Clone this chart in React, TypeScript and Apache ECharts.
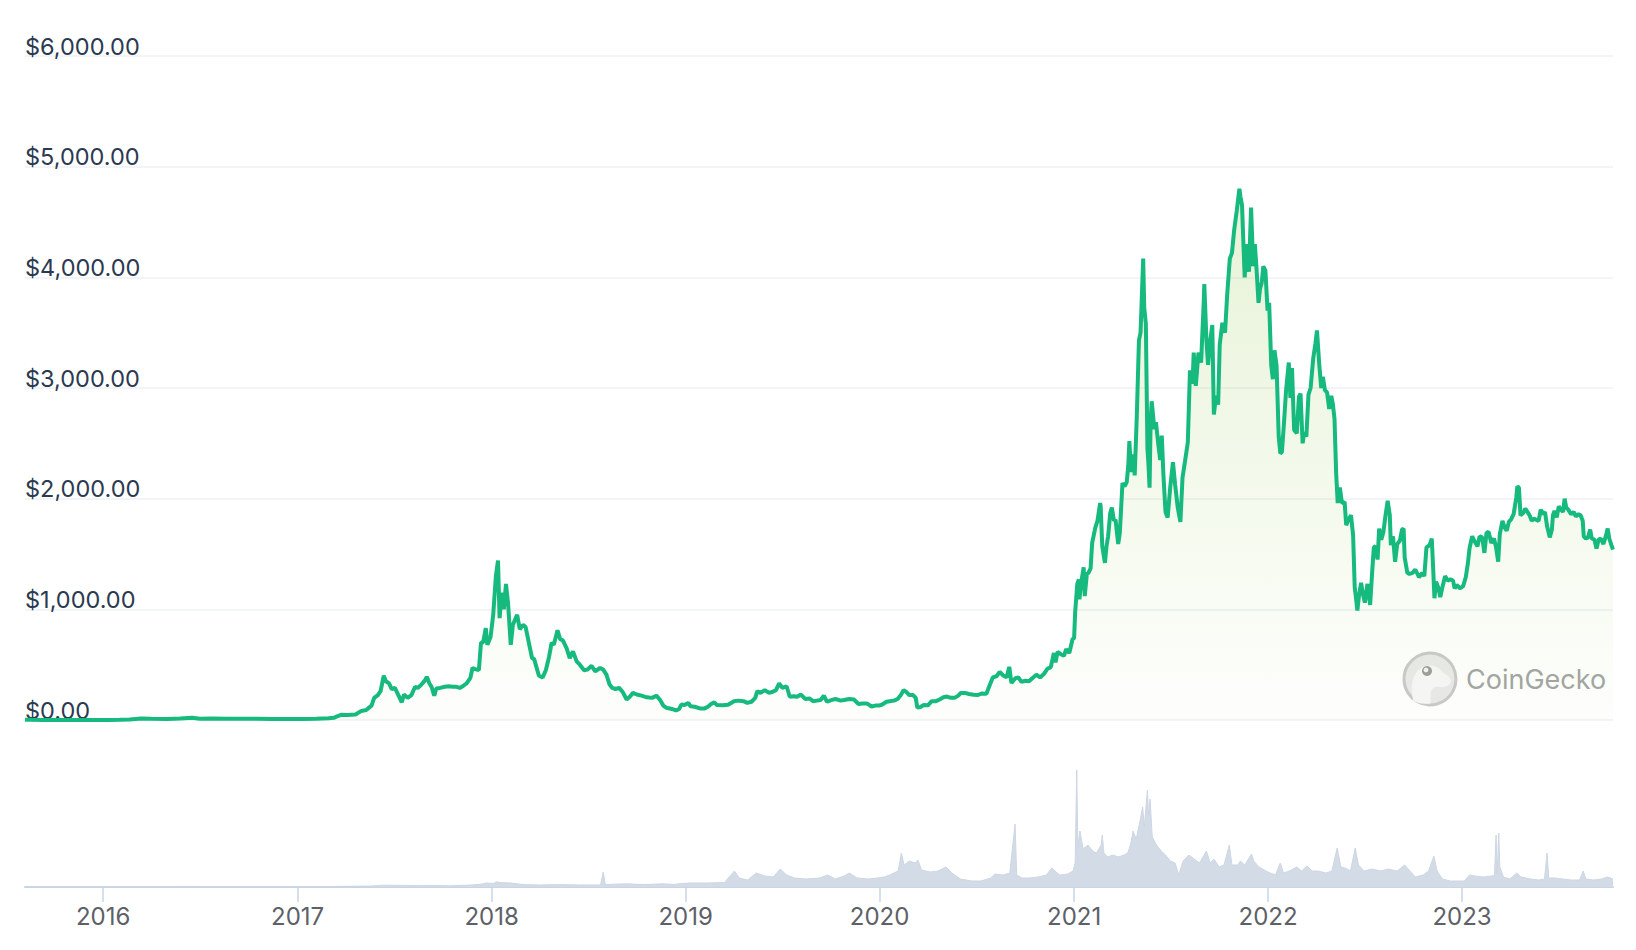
import React, { useEffect, useRef } from "react";
import * as echarts from "echarts";

// ---- Price (USD) ----
const price2015: [string, number][] = [
  ["2015-08-07", 2.8], ["2015-08-20", 1.4], ["2015-09-10", 1.0], ["2015-10-01", 0.7],
  ["2015-10-21", 0.5], ["2015-11-10", 1.0], ["2015-12-01", 0.85], ["2015-12-20", 0.9],
];
const price2016: [string, number][] = [
  ["2016-01-10", 1.0], ["2016-02-01", 2.3], ["2016-02-20", 4.5], ["2016-03-13", 14],
  ["2016-04-01", 11.5], ["2016-05-01", 9], ["2016-05-25", 12.5], ["2016-06-17", 21],
  ["2016-07-01", 12], ["2016-07-25", 13], ["2016-08-20", 11], ["2016-09-15", 12],
  ["2016-10-15", 12], ["2016-11-15", 10], ["2016-12-15", 8],
];
const price2017: [string, number][] = [
  ["2017-01-10", 10], ["2017-02-05", 11], ["2017-02-28", 16], ["2017-03-10", 20],
  ["2017-03-15", 30], ["2017-03-25", 48], ["2017-04-05", 45], ["2017-04-20", 50],
  ["2017-04-30", 80], ["2017-05-10", 90], ["2017-05-20", 130], ["2017-05-25", 200],
  ["2017-06-01", 225], ["2017-06-06", 260], ["2017-06-12", 400], ["2017-06-16", 350],
  ["2017-06-22", 330], ["2017-06-27", 280], ["2017-07-03", 290], ["2017-07-10", 220],
  ["2017-07-16", 160], ["2017-07-20", 230], ["2017-07-27", 200], ["2017-08-03", 225],
  ["2017-08-10", 300], ["2017-08-15", 290], ["2017-08-22", 320], ["2017-08-29", 360],
  ["2017-09-01", 390], ["2017-09-06", 330], ["2017-09-10", 300], ["2017-09-15", 220],
  ["2017-09-19", 285], ["2017-09-26", 290], ["2017-10-05", 300], ["2017-10-12", 305],
  ["2017-10-20", 300], ["2017-10-27", 300], ["2017-11-02", 290], ["2017-11-09", 310],
  ["2017-11-15", 330], ["2017-11-22", 380], ["2017-11-26", 470], ["2017-12-01", 460],
  ["2017-12-08", 450], ["2017-12-12", 700], ["2017-12-16", 700], ["2017-12-21", 830],
  ["2017-12-24", 680], ["2017-12-30", 750],
];
const price2018: [string, number][] = [
  ["2018-01-04", 950], ["2018-01-09", 1300], ["2018-01-13", 1440], ["2018-01-16", 920],
  ["2018-01-20", 1150], ["2018-01-24", 1000], ["2018-01-28", 1230], ["2018-02-01", 1050],
  ["2018-02-06", 680], ["2018-02-10", 860], ["2018-02-18", 950], ["2018-02-23", 820],
  ["2018-03-01", 860], ["2018-03-06", 840], ["2018-03-12", 700], ["2018-03-18", 560],
  ["2018-03-22", 550], ["2018-03-31", 400], ["2018-04-07", 385], ["2018-04-13", 450],
  ["2018-04-19", 570], ["2018-04-24", 700], ["2018-04-28", 680], ["2018-05-05", 810],
  ["2018-05-10", 730], ["2018-05-15", 720], ["2018-05-22", 650], ["2018-05-28", 560],
  ["2018-06-03", 620], ["2018-06-10", 530], ["2018-06-16", 500], ["2018-06-24", 450],
  ["2018-06-30", 455], ["2018-07-08", 490], ["2018-07-15", 440], ["2018-07-24", 470],
  ["2018-07-30", 455], ["2018-08-05", 410], ["2018-08-11", 320], ["2018-08-16", 290],
  ["2018-08-22", 280], ["2018-08-29", 290], ["2018-09-05", 250], ["2018-09-12", 185],
  ["2018-09-18", 210], ["2018-09-24", 245], ["2018-10-01", 230], ["2018-10-10", 220],
  ["2018-10-20", 205], ["2018-10-30", 200], ["2018-11-07", 220], ["2018-11-14", 180],
  ["2018-11-20", 130], ["2018-11-26", 110], ["2018-12-06", 100], ["2018-12-14", 86],
  ["2018-12-20", 100], ["2018-12-24", 140], ["2018-12-30", 135],
];
const price2019: [string, number][] = [
  ["2019-01-06", 155], ["2019-01-10", 125], ["2019-01-18", 120], ["2019-01-28", 105],
  ["2019-02-06", 105], ["2019-02-12", 120], ["2019-02-18", 145], ["2019-02-24", 160],
  ["2019-03-01", 135], ["2019-03-12", 133], ["2019-03-22", 138], ["2019-04-02", 170],
  ["2019-04-10", 175], ["2019-04-20", 170], ["2019-04-27", 155], ["2019-05-05", 165],
  ["2019-05-12", 200], ["2019-05-16", 260], ["2019-05-22", 245], ["2019-05-30", 270],
  ["2019-06-07", 245], ["2019-06-14", 255], ["2019-06-20", 270], ["2019-06-26", 330],
  ["2019-07-02", 290], ["2019-07-10", 305], ["2019-07-16", 210], ["2019-07-24", 215],
  ["2019-07-30", 210], ["2019-08-06", 230], ["2019-08-14", 190], ["2019-08-22", 195],
  ["2019-08-29", 170], ["2019-09-05", 175], ["2019-09-12", 180], ["2019-09-18", 220],
  ["2019-09-24", 165], ["2019-10-02", 180], ["2019-10-10", 190], ["2019-10-20", 175],
  ["2019-10-26", 180], ["2019-11-05", 190], ["2019-11-14", 185], ["2019-11-22", 145],
  ["2019-11-30", 150], ["2019-12-08", 150], ["2019-12-17", 122], ["2019-12-24", 130],
  ["2019-12-31", 130],
];
const price2020: [string, number][] = [
  ["2020-01-06", 140], ["2020-01-14", 165], ["2020-01-20", 170], ["2020-01-28", 175],
  ["2020-02-04", 190], ["2020-02-10", 225], ["2020-02-15", 270], ["2020-02-20", 255],
  ["2020-02-26", 225], ["2020-03-04", 225], ["2020-03-09", 200], ["2020-03-12", 112],
  ["2020-03-18", 118], ["2020-03-24", 135], ["2020-04-01", 133], ["2020-04-08", 170],
  ["2020-04-16", 170], ["2020-04-23", 185], ["2020-04-30", 205], ["2020-05-07", 212],
  ["2020-05-14", 200], ["2020-05-21", 200], ["2020-05-28", 220], ["2020-06-02", 245],
  ["2020-06-10", 245], ["2020-06-17", 235], ["2020-06-26", 228], ["2020-07-03", 225],
  ["2020-07-12", 240], ["2020-07-20", 236], ["2020-07-25", 300], ["2020-08-01", 385],
  ["2020-08-08", 395], ["2020-08-14", 435], ["2020-08-20", 405], ["2020-08-27", 385],
  ["2020-09-01", 480], ["2020-09-05", 335], ["2020-09-12", 375], ["2020-09-18", 385],
  ["2020-09-24", 345], ["2020-10-01", 355], ["2020-10-08", 350], ["2020-10-15", 380],
  ["2020-10-22", 410], ["2020-10-29", 385], ["2020-11-05", 415], ["2020-11-12", 465],
  ["2020-11-18", 475], ["2020-11-24", 605], ["2020-11-27", 520], ["2020-12-01", 615],
  ["2020-12-07", 595], ["2020-12-13", 580], ["2020-12-17", 640], ["2020-12-23", 605],
  ["2020-12-29", 730],
];
const price2021: [string, number][] = [
  ["2021-01-01", 740], ["2021-01-03", 975], ["2021-01-07", 1230], ["2021-01-10", 1270],
  ["2021-01-11", 1090], ["2021-01-14", 1230], ["2021-01-19", 1380], ["2021-01-21", 1120],
  ["2021-01-25", 1320], ["2021-01-28", 1330], ["2021-02-01", 1370], ["2021-02-04", 1600],
  ["2021-02-10", 1740], ["2021-02-14", 1800], ["2021-02-19", 1960], ["2021-02-20", 1930],
  ["2021-02-23", 1570], ["2021-02-28", 1420], ["2021-03-03", 1570], ["2021-03-06", 1660],
  ["2021-03-10", 1870], ["2021-03-13", 1920], ["2021-03-17", 1800], ["2021-03-20", 1810],
  ["2021-03-25", 1590], ["2021-03-28", 1690], ["2021-04-02", 2140], ["2021-04-06", 2110],
  ["2021-04-10", 2150], ["2021-04-13", 2300], ["2021-04-15", 2520], ["2021-04-18", 2240],
  ["2021-04-22", 2400], ["2021-04-25", 2210], ["2021-04-29", 2750], ["2021-05-03", 3430],
  ["2021-05-06", 3500], ["2021-05-09", 3900], ["2021-05-11", 4170], ["2021-05-13", 3720],
  ["2021-05-16", 3580], ["2021-05-19", 2450], ["2021-05-21", 2300], ["2021-05-23", 2100],
  ["2021-05-25", 2700], ["2021-05-27", 2880], ["2021-06-01", 2630], ["2021-06-04", 2690],
  ["2021-06-08", 2510], ["2021-06-12", 2350], ["2021-06-15", 2570], ["2021-06-18", 2220],
  ["2021-06-22", 1880], ["2021-06-26", 1830], ["2021-07-01", 2110], ["2021-07-06", 2330],
  ["2021-07-10", 2130], ["2021-07-15", 1920], ["2021-07-20", 1790], ["2021-07-24", 2190],
  ["2021-07-30", 2380], ["2021-08-03", 2510], ["2021-08-07", 3160], ["2021-08-12", 3040],
  ["2021-08-14", 3320], ["2021-08-18", 3020], ["2021-08-23", 3320], ["2021-08-28", 3230],
  ["2021-09-02", 3790], ["2021-09-03", 3940], ["2021-09-07", 3430], ["2021-09-10", 3210],
  ["2021-09-14", 3420], ["2021-09-18", 3570], ["2021-09-21", 2760], ["2021-09-25", 2930],
  ["2021-09-29", 2850], ["2021-10-02", 3390], ["2021-10-07", 3590], ["2021-10-12", 3500],
  ["2021-10-16", 3840], ["2021-10-21", 4170], ["2021-10-25", 4220], ["2021-10-29", 4420],
  ["2021-11-03", 4600], ["2021-11-08", 4800], ["2021-11-10", 4730], ["2021-11-13", 4650],
  ["2021-11-16", 4250], ["2021-11-18", 4000], ["2021-11-21", 4300], ["2021-11-26", 4050],
  ["2021-11-30", 4630], ["2021-12-04", 4100], ["2021-12-07", 4300], ["2021-12-10", 4100],
  ["2021-12-14", 3770], ["2021-12-17", 3900], ["2021-12-20", 3950], ["2021-12-23", 4100],
  ["2021-12-27", 4060], ["2021-12-31", 3700],
];
const price2022: [string, number][] = [
  ["2022-01-03", 3770], ["2022-01-07", 3200], ["2022-01-10", 3080], ["2022-01-13", 3340],
  ["2022-01-17", 3200], ["2022-01-21", 2560], ["2022-01-24", 2410], ["2022-01-27", 2420],
  ["2022-01-31", 2690], ["2022-02-04", 2990], ["2022-02-09", 3230], ["2022-02-12", 2910],
  ["2022-02-15", 3180], ["2022-02-19", 2620], ["2022-02-24", 2590], ["2022-02-28", 2920],
  ["2022-03-03", 2950], ["2022-03-07", 2500], ["2022-03-10", 2600], ["2022-03-14", 2560],
  ["2022-03-18", 2940], ["2022-03-22", 3000], ["2022-03-27", 3270], ["2022-03-31", 3400],
  ["2022-04-03", 3520], ["2022-04-07", 3230], ["2022-04-11", 3000], ["2022-04-14", 3100],
  ["2022-04-18", 2980], ["2022-04-22", 2960], ["2022-04-26", 2810], ["2022-04-30", 2930],
  ["2022-05-03", 2850], ["2022-05-06", 2720], ["2022-05-09", 2240], ["2022-05-12", 1960],
  ["2022-05-16", 2100], ["2022-05-20", 1960], ["2022-05-25", 1970], ["2022-05-28", 1760],
  ["2022-06-01", 1810], ["2022-06-06", 1850], ["2022-06-10", 1670], ["2022-06-13", 1200],
  ["2022-06-15", 1120], ["2022-06-18", 990], ["2022-06-21", 1120], ["2022-06-25", 1240],
  ["2022-06-28", 1150], ["2022-07-02", 1060], ["2022-07-07", 1230], ["2022-07-12", 1040],
  ["2022-07-16", 1350], ["2022-07-19", 1560], ["2022-07-22", 1570], ["2022-07-26", 1450],
  ["2022-07-29", 1730], ["2022-08-02", 1630], ["2022-08-06", 1700], ["2022-08-10", 1850],
  ["2022-08-14", 1980], ["2022-08-18", 1850], ["2022-08-20", 1580], ["2022-08-24", 1660],
  ["2022-08-28", 1430], ["2022-09-01", 1590], ["2022-09-06", 1620], ["2022-09-10", 1720],
  ["2022-09-13", 1730], ["2022-09-15", 1470], ["2022-09-20", 1330], ["2022-09-24", 1320],
  ["2022-09-30", 1330], ["2022-10-05", 1360], ["2022-10-12", 1290], ["2022-10-18", 1330],
  ["2022-10-22", 1300], ["2022-10-26", 1560], ["2022-11-01", 1580], ["2022-11-05", 1640],
  ["2022-11-08", 1330], ["2022-11-10", 1100], ["2022-11-13", 1250], ["2022-11-17", 1200],
  ["2022-11-21", 1110], ["2022-11-25", 1200], ["2022-11-30", 1300], ["2022-12-05", 1260],
  ["2022-12-10", 1270], ["2022-12-15", 1260], ["2022-12-18", 1190], ["2022-12-22", 1220],
  ["2022-12-28", 1190],
];
const price2023: [string, number][] = [
  ["2023-01-03", 1210], ["2023-01-08", 1290], ["2023-01-12", 1420], ["2023-01-15", 1550],
  ["2023-01-20", 1660], ["2023-01-25", 1610], ["2023-01-30", 1570], ["2023-02-03", 1660],
  ["2023-02-08", 1650], ["2023-02-12", 1510], ["2023-02-16", 1690], ["2023-02-20", 1700],
  ["2023-02-25", 1600], ["2023-03-02", 1640], ["2023-03-06", 1560], ["2023-03-10", 1430],
  ["2023-03-13", 1680], ["2023-03-18", 1800], ["2023-03-22", 1740], ["2023-03-26", 1710],
  ["2023-03-30", 1790], ["2023-04-03", 1810], ["2023-04-08", 1860], ["2023-04-13", 2010],
  ["2023-04-15", 2110], ["2023-04-18", 2100], ["2023-04-21", 1850], ["2023-04-26", 1870],
  ["2023-04-30", 1910], ["2023-05-04", 1880], ["2023-05-08", 1850], ["2023-05-12", 1800],
  ["2023-05-16", 1820], ["2023-05-20", 1810], ["2023-05-25", 1800], ["2023-05-29", 1900],
  ["2023-06-02", 1860], ["2023-06-06", 1880], ["2023-06-10", 1750], ["2023-06-15", 1650],
  ["2023-06-19", 1720], ["2023-06-21", 1850], ["2023-06-24", 1890], ["2023-06-28", 1830],
  ["2023-07-02", 1930], ["2023-07-06", 1900], ["2023-07-10", 1880], ["2023-07-13", 2000],
  ["2023-07-16", 1920], ["2023-07-20", 1900], ["2023-07-25", 1860], ["2023-07-30", 1880],
  ["2023-08-03", 1840], ["2023-08-08", 1860], ["2023-08-12", 1850], ["2023-08-16", 1800],
  ["2023-08-18", 1660], ["2023-08-22", 1640], ["2023-08-26", 1650], ["2023-08-30", 1720],
  ["2023-09-02", 1640], ["2023-09-07", 1630], ["2023-09-11", 1550], ["2023-09-15", 1630],
  ["2023-09-19", 1640], ["2023-09-24", 1590], ["2023-09-29", 1670], ["2023-10-02", 1730],
  ["2023-10-05", 1640], ["2023-10-09", 1580], ["2023-10-12", 1540],
];

// ---- Volume (USD billions) ----
const volume2015_2016: [string, number][] = [
  ["2015-08-07", 0.05], ["2015-10-01", 0.02], ["2016-01-01", 0.03], ["2016-03-13", 0.2],
  ["2016-06-17", 0.3], ["2016-09-01", 0.1], ["2016-12-31", 0.1],
];
const volume2017: [string, number][] = [
  ["2017-02-01", 0.1], ["2017-03-20", 0.3], ["2017-05-20", 0.5], ["2017-06-12", 0.9],
  ["2017-07-16", 0.8], ["2017-08-15", 0.7], ["2017-09-15", 0.8], ["2017-10-15", 0.6],
  ["2017-11-25", 1.0], ["2017-12-12", 1.4], ["2017-12-22", 2.0],
];
const volume2018: [string, number][] = [
  ["2018-01-05", 1.8], ["2018-01-10", 2.6], ["2018-01-17", 2.2], ["2018-02-06", 2.0],
  ["2018-03-01", 1.2], ["2018-04-01", 1.0], ["2018-05-05", 1.2], ["2018-06-15", 1.0],
  ["2018-07-25", 1.0], ["2018-07-30", 7.5], ["2018-08-03", 1.2], ["2018-08-20", 1.4],
  ["2018-09-12", 1.6], ["2018-10-15", 1.2], ["2018-11-20", 1.6], ["2018-12-10", 1.3],
  ["2018-12-28", 1.8],
];
const volume2019: [string, number][] = [
  ["2019-01-10", 2.0], ["2019-02-10", 2.0], ["2019-03-15", 2.2], ["2019-04-03", 8.0],
  ["2019-04-12", 4.5], ["2019-04-28", 3.5], ["2019-05-14", 7.0], ["2019-05-30", 5.5],
  ["2019-06-15", 5.0], ["2019-06-28", 9.0], ["2019-07-10", 6.0], ["2019-07-25", 4.5],
  ["2019-08-15", 4.0], ["2019-09-10", 4.5], ["2019-09-25", 6.0], ["2019-10-10", 4.0],
  ["2019-10-26", 5.5], ["2019-11-05", 7.0], ["2019-11-20", 4.5], ["2019-12-10", 4.0],
  ["2019-12-28", 4.5],
];
const volume2020: [string, number][] = [
  ["2020-01-10", 5.0], ["2020-01-20", 6.0], ["2020-02-05", 8.0], ["2020-02-11", 17.0],
  ["2020-02-16", 11.0], ["2020-02-26", 13.0], ["2020-03-08", 12.0], ["2020-03-13", 13.5],
  ["2020-03-20", 8.5], ["2020-04-05", 7.5], ["2020-04-20", 8.0], ["2020-05-05", 10.0],
  ["2020-05-16", 7.0], ["2020-06-01", 4.0], ["2020-06-23", 3.0], ["2020-07-10", 3.0],
  ["2020-07-28", 4.5], ["2020-08-05", 6.5], ["2020-08-20", 6.0], ["2020-09-02", 7.0],
  ["2020-09-12", 31.5], ["2020-09-15", 6.0], ["2020-09-25", 4.5], ["2020-10-10", 4.5],
  ["2020-10-25", 5.0], ["2020-11-10", 6.0], ["2020-11-20", 9.5], ["2020-11-26", 8.0],
  ["2020-12-05", 6.0], ["2020-12-20", 6.5], ["2020-12-30", 8.0],
];
const volume2021: [string, number][] = [
  ["2021-01-03", 12], ["2021-01-06", 58.5], ["2021-01-08", 20], ["2021-01-12", 28],
  ["2021-01-18", 19], ["2021-01-27", 21], ["2021-02-05", 18], ["2021-02-12", 17],
  ["2021-02-21", 21], ["2021-02-23", 26], ["2021-02-26", 17], ["2021-03-05", 15],
  ["2021-03-15", 16], ["2021-03-25", 15], ["2021-04-05", 16], ["2021-04-12", 17],
  ["2021-04-18", 22], ["2021-04-22", 28], ["2021-04-28", 24], ["2021-05-05", 33],
  ["2021-05-10", 40], ["2021-05-13", 30], ["2021-05-19", 48.5], ["2021-05-21", 36],
  ["2021-05-24", 44], ["2021-05-28", 25], ["2021-06-05", 21], ["2021-06-14", 18],
  ["2021-06-22", 16], ["2021-07-01", 13], ["2021-07-10", 12], ["2021-07-17", 6],
  ["2021-07-25", 13], ["2021-08-05", 16], ["2021-08-15", 14], ["2021-08-25", 12],
  ["2021-09-07", 18], ["2021-09-14", 12], ["2021-09-21", 14], ["2021-10-01", 10],
  ["2021-10-10", 11], ["2021-10-20", 21], ["2021-10-25", 11], ["2021-11-05", 11],
  ["2021-11-10", 13], ["2021-11-18", 11], ["2021-12-01", 16.5], ["2021-12-05", 13],
  ["2021-12-15", 10], ["2021-12-28", 8],
];
const volume2022: [string, number][] = [
  ["2022-01-05", 7], ["2022-01-15", 6], ["2022-01-24", 12], ["2022-01-30", 7],
  ["2022-02-10", 8], ["2022-02-24", 10], ["2022-03-05", 8], ["2022-03-15", 10.5],
  ["2022-03-25", 8], ["2022-04-05", 8], ["2022-04-20", 7], ["2022-05-01", 8],
  ["2022-05-11", 19.5], ["2022-05-18", 10], ["2022-05-26", 9.5], ["2022-06-05", 8],
  ["2022-06-14", 19.5], ["2022-06-20", 11], ["2022-07-01", 8], ["2022-07-15", 9],
  ["2022-08-01", 8], ["2022-08-15", 9], ["2022-09-01", 8], ["2022-09-15", 11],
  ["2022-09-25", 8], ["2022-10-05", 5], ["2022-10-20", 6], ["2022-10-30", 8],
  ["2022-11-09", 15.5], ["2022-11-15", 8], ["2022-11-25", 4], ["2022-12-10", 3],
  ["2022-12-25", 3],
];
const volume2023: [string, number][] = [
  ["2023-01-05", 3], ["2023-01-15", 6], ["2023-01-25", 5.5], ["2023-02-10", 5],
  ["2023-02-26", 5.5], ["2023-03-03", 6], ["2023-03-06", 26], ["2023-03-08", 6],
  ["2023-03-11", 27], ["2023-03-13", 10], ["2023-03-20", 5], ["2023-04-01", 4],
  ["2023-04-14", 7], ["2023-04-22", 5], ["2023-05-10", 4], ["2023-05-25", 3.5],
  ["2023-06-05", 4], ["2023-06-10", 17], ["2023-06-13", 4.5], ["2023-06-25", 4.5],
  ["2023-07-10", 4], ["2023-07-25", 3.5], ["2023-08-10", 3.5], ["2023-08-17", 8],
  ["2023-08-22", 4], ["2023-09-05", 3.5], ["2023-09-20", 4], ["2023-10-02", 5],
  ["2023-10-12", 4],
];

const yearLabels = [2016, 2017, 2018, 2019, 2020, 2021, 2022, 2023];
const startDate = "2015-08-07";
const endDate = "2023-10-12";

const toTime = (d: string) => {
  const [y, m, day] = d.split("-").map(Number);
  return new Date(y, m - 1, day).getTime();
};

const GECKO_PATH =
  "M18 92 C12 70 14 44 30 31 C42 21 62 22 72 34 C79 42 90 44 90 54 C90 64 78 67 66 65 C56 63 51 71 51 83 L51 97 C38 99 26 97 18 92 Z";
echarts.graphic.registerShape("geckoHead", echarts.graphic.extendPath(GECKO_PATH, {}) as any);

export default function App() {
  const ref = useRef<HTMLDivElement>(null);

  useEffect(() => {
    if (!ref.current) return;
    const chart = echarts.init(ref.current, null, { renderer: "svg" });
    const priceData = [
      ...price2015, ...price2016, ...price2017, ...price2018,
      ...price2019, ...price2020, ...price2021, ...price2022, ...price2023,
    ].map(([d, v]) => [toTime(d), v]);
    const volumeData = [
      ...volume2015_2016, ...volume2017, ...volume2018, ...volume2019,
      ...volume2020, ...volume2021, ...volume2022, ...volume2023,
    ].map(([d, v]) => [toTime(d), v]);
    const yearTickValues = yearLabels.map((y) => new Date(y, 0, 1).getTime());
    const xMin = toTime(startDate);
    const xMax = toTime(endDate);
    const font = "Inter, 'Noto Sans', sans-serif";

    chart.setOption({
      animation: false,
      backgroundColor: "#ffffff",
      grid: [
        { left: 25, right: 23, top: 56, height: 664 },
        { left: 25, right: 23, top: 737, height: 150 },
      ],
      xAxis: [
        { type: "value", gridIndex: 0, min: xMin, max: xMax, show: false, splitLine: { show: false } },
        {
          type: "value",
          gridIndex: 1,
          min: xMin,
          max: xMax,
          axisLine: { show: true, onZero: false, lineStyle: { color: "#c9d4e6", width: 2 } },
          axisTick: {
            show: true,
            length: 15,
            customValues: yearTickValues,
            lineStyle: { color: "#c9d4e6", width: 1.5 },
          },
          axisLabel: {
            customValues: yearTickValues,
            formatter: (v: number) => String(new Date(v).getFullYear()),
            color: "#5d6067",
            fontSize: 24,
            fontFamily: font,
            margin: 17,
          },
          splitLine: { show: false },
        },
      ],
      yAxis: [
        {
          type: "value",
          gridIndex: 0,
          min: 0,
          max: 6000,
          interval: 1000,
          axisLine: { show: false },
          axisTick: { show: false },
          splitLine: { lineStyle: { color: "#eef1f5", width: 1.5 } },
          axisLabel: {
            inside: true,
            margin: 0,
            verticalAlign: "bottom",
            lineHeight: 20,
            padding: [0, 0, 0, 0],
            color: "#2b3a50",
            fontSize: 23.5,
            fontFamily: font,
            formatter: (v: number) =>
              "$" + v.toLocaleString("en-US", { minimumFractionDigits: 2, maximumFractionDigits: 2 }),
          },
        },
        { type: "value", gridIndex: 1, min: 0, max: 75, show: false, splitLine: { show: false } },
      ],
      series: [
        {
          type: "line",
          xAxisIndex: 1,
          yAxisIndex: 1,
          data: volumeData,
          symbol: "none",
          lineStyle: { color: "#cdd6e3", width: 1 },
          areaStyle: { color: "#d3dbe7", opacity: 1 },
          z: 1,
        },
        {
          type: "line",
          xAxisIndex: 0,
          yAxisIndex: 0,
          data: priceData,
          symbol: "none",
          lineStyle: { color: "#16b97e", width: 4 },
          areaStyle: {
            color: new echarts.graphic.LinearGradient(0, 0, 0, 1, [
              { offset: 0, color: "rgba(141,198,63,0.30)" },
              { offset: 1, color: "rgba(141,198,63,0.02)" },
            ]),
          },
          z: 3,
        },
      ],
      graphic: [
        {
          type: "group",
          z: 10,
          children: [
            {
              type: "circle",
              shape: { cx: 1430, cy: 679, r: 26 },
              style: { fill: "#e9e9e9", stroke: "#c9c9c9", lineWidth: 3 },
            },
            {
              type: "geckoHead",
              x: 1404,
              y: 653,
              scaleX: 0.52,
              scaleY: 0.52,
              style: { fill: "#f7f7f7" },
            },
            {
              type: "circle",
              shape: { cx: 1427, cy: 671, r: 5 },
              style: { fill: "#9c9c9c" },
            },
            {
              type: "circle",
              shape: { cx: 1426, cy: 670, r: 2.4 },
              style: { fill: "#f4f4f4" },
            },
            {
              type: "text",
              x: 1466,
              y: 679,
              style: {
                text: "CoinGecko",
                fontSize: 27,
                fontFamily: font,
                fill: "#a4a4a4",
                verticalAlign: "middle",
              },
            },
          ],
        },
      ],
    });

    return () => chart.dispose();
  }, []);

  return (
    <div
      ref={ref}
      style={{ position: "fixed", left: 0, top: 0, width: 1636, height: 950 }}
    />
  );
}
